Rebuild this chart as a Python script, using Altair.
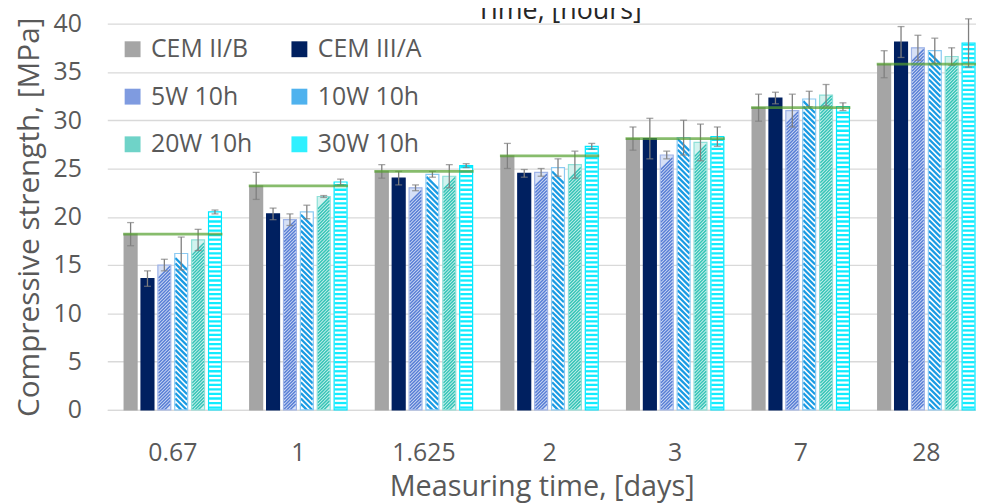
import altair as alt
import pandas as pd

# ---------------- data ----------------
categories = ["0.67", "1", "1.625", "2", "3", "7", "28"]
series = ["CEM II/B", "CEM III/A", "5W 10h", "10W 10h", "20W 10h", "30W 10h"]

cem2b = [18.2, 23.2, 24.7, 26.3, 28.1, 31.3, 35.8]
cem2b_err = [1.2, 1.4, 0.7, 1.3, 1.2, 1.4, 1.4]
cem3a = [13.6, 20.3, 24.0, 24.5, 28.1, 32.3, 38.1]
cem3a_err = [0.8, 0.6, 0.7, 0.4, 2.1, 0.6, 1.6]
w5 = [15.0, 19.7, 23.0, 24.6, 26.4, 31.0, 37.5]
w5_err = [0.6, 0.6, 0.3, 0.4, 0.4, 1.7, 1.3]
w10 = [16.2, 20.5, 24.4, 25.1, 28.2, 32.2, 37.2]
w10_err = [1.7, 0.7, 0.3, 0.9, 1.8, 0.8, 1.3]
w20 = [17.6, 22.1, 24.2, 25.4, 27.7, 32.6, 36.6]
w20_err = [1.1, 0.1, 1.2, 1.4, 1.9, 1.1, 0.9]
w30 = [20.5, 23.6, 25.3, 27.3, 28.3, 31.4, 38.0]
w30_err = [0.2, 0.3, 0.2, 0.3, 1.0, 0.4, 2.5]

top_title = ["Time, [hours]"]

values = [cem2b, cem3a, w5, w10, w20, w30]
errors = [cem2b_err, cem3a_err, w5_err, w10_err, w20_err, w30_err]

# ---------------- styles ----------------
legend_colors = ["#a5a5a5", "#002060", "#7f9be0", "#4fb2ee", "#6fd3c8", "#2ff0ff"]
base_fill = ["#a5a5a5", "#002060", "#d6e0f6", "#ffffff", "#d2f3ef", "#ffffff"]
border = ["#a5a5a5", "#002060", "#9fb4e8", "#8ccaf2", "#8fe0d8", "#00e8ff"]
stripe_specs = {
    "5W 10h": dict(shape="M-1,1L1,-1", step=0.34, width=1.5, color="#587ed5", start=0.0, top=0.62),
    "10W 10h": dict(shape="M-1,-1L1,1", step=0.56, width=2.3, color="#1a9be3", start=0.0, top=0.62),
    "20W 10h": dict(shape="M-1,1L1,-1", step=0.34, width=1.5, color="#36c4b7", start=0.0, top=0.62),
    "30W 10h": dict(shape="M-1,0L1,0", step=0.47, width=2.3, color="#10ecff", start=0.24, top=0.15),
}
FONT = "Open Sans"
TXT = "#595959"

rows = []
for si, s in enumerate(series):
    for ci, c in enumerate(categories):
        v = values[si][ci]
        e = errors[si][ci]
        rows.append(dict(cat=c, series=s, val=v, lo=v - e, hi=v + e,
                         base=base_fill[si], border=border[si]))
df = pd.DataFrame(rows)

ref_df = pd.DataFrame(dict(cat=categories, val=cem2b))

stripe_rows = []
for s, spec in stripe_specs.items():
    si = series.index(s)
    for ci, c in enumerate(categories):
        v = values[si][ci]
        k = 0
        while spec["start"] + k * spec["step"] <= v - spec["top"]:
            stripe_rows.append(dict(cat=c, series=s, y=spec["start"] + k * spec["step"]))
            k += 1
stripe_df = pd.DataFrame(stripe_rows)

# ---------------- encodings ----------------
x_enc = alt.X("cat:N", sort=categories,
              scale=alt.Scale(paddingInner=0.2253, paddingOuter=0.0711, align=0.944),
              axis=alt.Axis(title="Measuring time, [days]", labelAngle=0, labelFontSize=25,
                            labelFont=FONT, labelColor=TXT, labelPadding=31, ticks=False,
                            domain=True, domainColor="#d9d9d9", domainWidth=1.3, grid=False,
                            titleFont=FONT, titleFontSize=29, titleColor=TXT,
                            titleFontWeight="normal", titlePadding=7))
xo_enc = alt.XOffset("series:N", sort=series,
                     scale=alt.Scale(paddingInner=0.235, paddingOuter=0))
y_scale = alt.Scale(domain=[0, 40], nice=False)
y_enc = alt.Y("val:Q", scale=y_scale,
              axis=alt.Axis(title="Compressive strength, [MPa]", values=list(range(0, 41, 5)),
                            labelFontSize=25, labelFont=FONT, labelColor=TXT, labelPadding=26,
                            ticks=False, domain=False, grid=True, gridColor="#d9d9d9",
                            gridWidth=1.3, titleFont=FONT, titleFontSize=30, titleColor=TXT,
                            titleFontWeight="normal", titlePadding=9))

base = alt.Chart(df)

legend_bars = base.mark_bar().encode(
    x=x_enc, xOffset=xo_enc, y=y_enc,
    fill=alt.Fill("series:N", sort=series,
                  scale=alt.Scale(domain=series, range=legend_colors),
                  legend=alt.Legend(orient="none", legendX=13, legendY=13, columns=2,
                                    direction="horizontal",
                                    title=None, symbolType="square", symbolSize=256,
                                    symbolStrokeWidth=0, symbolOpacity=1,
                                    labelFontSize=25, labelFont=FONT, labelColor=TXT,
                                    columnPadding=34, rowPadding=22, labelOffset=6,
                                    padding=0)),
)

fill_bars = base.mark_bar().encode(
    x=x_enc, xOffset=xo_enc, y=y_enc,
    fill=alt.Fill("base:N", scale=None),
)

stripe_layers = []
for s, spec in stripe_specs.items():
    stripe_layers.append(
        alt.Chart(stripe_df).transform_filter(alt.datum.series == s).mark_point(
            shape=spec["shape"], size=144, filled=False, strokeWidth=spec["width"],
            color=spec["color"], opacity=1, clip=True
        ).encode(x=alt.X("cat:N", sort=categories), xOffset=alt.XOffset("series:N", sort=series),
                 y=alt.Y("y:Q", scale=y_scale))
    )

outline = base.mark_bar(fillOpacity=0, strokeWidth=1.2).encode(
    x=x_enc, xOffset=xo_enc, y=y_enc,
    stroke=alt.Stroke("border:N", scale=None),
)

err_rule = base.mark_rule(color="#7f7f7f", strokeWidth=1.3).encode(
    x=alt.X("cat:N", sort=categories), xOffset=alt.XOffset("series:N", sort=series),
    y=alt.Y("lo:Q", scale=y_scale), y2="hi:Q",
)
cap_lo = base.mark_tick(color="#7f7f7f", thickness=1.3, size=7, orient="horizontal").encode(
    x=alt.X("cat:N", sort=categories), xOffset=alt.XOffset("series:N", sort=series),
    y=alt.Y("lo:Q", scale=y_scale),
)
cap_hi = base.mark_tick(color="#7f7f7f", thickness=1.3, size=7, orient="horizontal").encode(
    x=alt.X("cat:N", sort=categories), xOffset=alt.XOffset("series:N", sort=series),
    y=alt.Y("hi:Q", scale=y_scale),
)

ref_line = alt.Chart(ref_df).mark_tick(color="#54a02e", thickness=2.8, size=100,
                                       orient="horizontal").encode(
    x=alt.X("cat:N", sort=categories), y=alt.Y("val:Q", scale=y_scale),
)

title_text = alt.Chart(pd.DataFrame({"t": top_title})).mark_text(
    font=FONT, fontSize=27, color="#262626", align="center", baseline="alphabetic"
).encode(text="t:N", x=alt.value(455), y=alt.value(-5))

chart = alt.layer(
    legend_bars, fill_bars, *stripe_layers, outline, err_rule, cap_lo, cap_hi, ref_line,
    title_text
).properties(
    width=875, height=389,
    autosize=alt.AutoSizeParams(type="none"),
    padding={"left": 100, "top": 14, "right": 0, "bottom": 93},
    background="white",
).configure_view(strokeWidth=0)

chart.save("out.html", embed_options={"renderer": "svg", "actions": False})
